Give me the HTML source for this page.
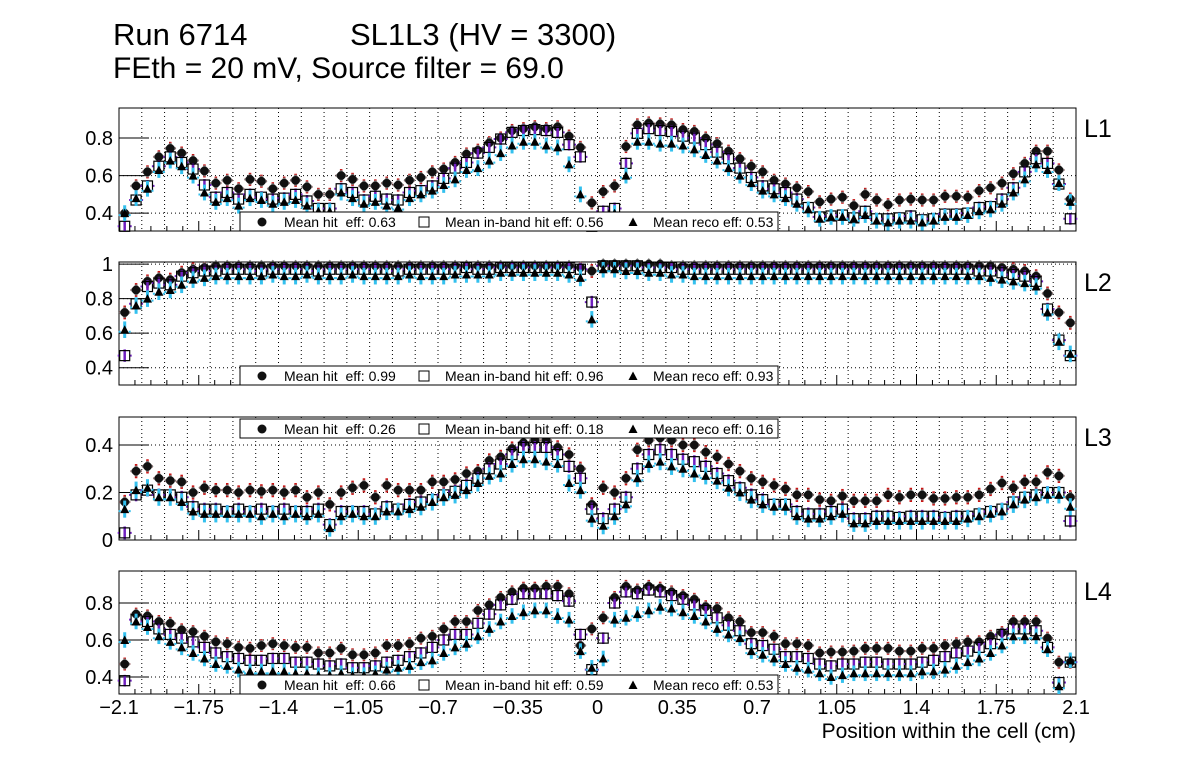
<!DOCTYPE html>
<html><head><meta charset="utf-8"><style>
html,body{margin:0;padding:0;background:#fff;}
svg{display:block;font-family:"Liberation Sans",Arial,sans-serif;}
</style></head><body>
<svg id="chart" width="1196" height="772" viewBox="0 0 1196 772">
<text x="113" y="45" font-size="31">Run 6714</text>
<text x="350" y="45" font-size="31">SL1L3 (HV = 3300)</text>
<text x="113" y="78" font-size="30">FEth = 20 mV, Source filter = 69.0</text>
<text x="1076" y="738" font-size="21" text-anchor="end">Position within the cell (cm)</text>
</svg>
<script>
const xTicks = [-2.1,-1.75,-1.4,-1.05,-0.7,-0.35,0,0.35,0.7,1.05,1.4,1.75,2.1];
const xTickLabels = ["\u22122.1","\u22121.75","\u22121.4","\u22121.05","\u22120.7","\u22120.35","0","0.35","0.7","1.05","1.4","1.75","2.1"];
const layerNames = ["L1","L2","L3","L4"];
const meanHit = ["0.63","0.99","0.26","0.66"];
const meanInband = ["0.56","0.96","0.18","0.59"];
const meanReco = ["0.53","0.93","0.16","0.53"];
const yTicks1 = [0.4,0.6,0.8];
const yTicks2 = [0.4,0.6,0.8,1];
const yTicks3 = [0,0.2,0.4];
const yTicks4 = [0.4,0.6,0.8];

const h1 = [0.40,0.545,0.62,0.70,0.745,0.72,0.68,0.625,0.56,0.575, 0.53,0.58,0.57,0.53,0.56,0.575,0.54,0.50,0.50,0.60, 0.58,0.545,0.545,0.56,0.55,0.575,0.59,0.62,0.635,0.67, 0.715,0.735,0.775,0.80,0.84,0.85,0.86,0.85,0.86,0.81, 0.75,0.455,0.515,0.545,0.755,0.87,0.88,0.875,0.87,0.845, 0.835,0.80,0.77,0.73,0.69,0.65,0.62,0.575,0.555,0.535, 0.515,0.46,0.475,0.485,0.44,0.50,0.47,0.445,0.47,0.475, 0.47,0.47,0.49,0.49,0.485,0.52,0.535,0.56,0.61,0.665, 0.73,0.73,0.63,0.475];
const s1 = [0.33,0.47,0.545,0.65,0.70,0.67,0.635,0.55,0.485,0.51, 0.475,0.50,0.485,0.475,0.48,0.50,0.465,0.425,0.425,0.53, 0.51,0.47,0.49,0.475,0.47,0.51,0.52,0.545,0.585,0.64, 0.67,0.72,0.75,0.795,0.83,0.84,0.845,0.84,0.83,0.765, 0.70,0.33,0.41,0.425,0.665,0.825,0.85,0.84,0.835,0.81, 0.80,0.765,0.725,0.69,0.64,0.59,0.545,0.53,0.51,0.475, 0.43,0.38,0.385,0.39,0.375,0.41,0.37,0.37,0.375,0.385, 0.365,0.37,0.395,0.395,0.40,0.43,0.435,0.475,0.535,0.62, 0.69,0.665,0.555,0.37];
const t1 = [0.40,0.48,0.53,0.63,0.68,0.65,0.60,0.51,0.46,0.48, 0.44,0.48,0.47,0.45,0.46,0.47,0.44,0.41,0.41,0.51, 0.48,0.45,0.46,0.44,0.43,0.48,0.50,0.52,0.55,0.58, 0.63,0.64,0.68,0.72,0.76,0.78,0.78,0.76,0.75,0.66, 0.50,0.33,0.36,0.40,0.60,0.78,0.78,0.77,0.77,0.76, 0.74,0.71,0.68,0.64,0.60,0.56,0.52,0.50,0.48,0.45, 0.42,0.37,0.38,0.38,0.37,0.39,0.36,0.35,0.36,0.36, 0.35,0.36,0.38,0.38,0.39,0.41,0.42,0.45,0.51,0.58, 0.66,0.63,0.56,0.46];

const h2 = [0.72,0.85,0.90,0.92,0.91,0.95,0.97,0.98,0.99,0.99, 0.99,0.99,0.99,0.99,0.99,0.99,0.99,0.99,0.99,0.99, 0.99,0.99,0.99,0.99,0.99,0.99,0.99,0.99,0.99,0.99, 0.99,0.99,0.99,0.99,0.99,0.99,0.99,0.99,0.99,0.99, 0.98,0.96,1.0,1.0,1.0,1.0,1.0,1.0,0.99,0.99, 0.99,0.99,0.99,0.99,0.99,0.99,0.99,0.99,0.99,0.99, 0.99,0.99,0.99,0.99,0.99,0.99,0.99,0.99,0.99,0.99, 0.99,0.99,0.99,0.99,0.99,0.99,0.99,0.98,0.97,0.96, 0.93,0.83,0.72,0.66];
const s2 = [0.47,0.77,0.87,0.89,0.88,0.93,0.95,0.96,0.96,0.97, 0.97,0.97,0.96,0.97,0.97,0.97,0.97,0.96,0.97,0.97, 0.97,0.97,0.97,0.97,0.96,0.97,0.97,0.97,0.97,0.97, 0.98,0.97,0.97,0.98,0.98,0.98,0.98,0.98,0.98,0.98, 0.97,0.78,0.99,0.99,0.99,0.99,0.98,0.98,0.98,0.97, 0.97,0.97,0.97,0.97,0.97,0.97,0.97,0.97,0.97,0.97, 0.97,0.97,0.97,0.97,0.97,0.97,0.97,0.97,0.97,0.97, 0.97,0.97,0.97,0.97,0.97,0.96,0.96,0.95,0.94,0.93, 0.90,0.74,0.56,0.47];
const t2 = [0.62,0.76,0.80,0.84,0.85,0.88,0.91,0.92,0.93,0.93, 0.93,0.93,0.93,0.94,0.93,0.93,0.94,0.93,0.93,0.93, 0.94,0.93,0.93,0.93,0.93,0.94,0.93,0.93,0.93,0.94, 0.94,0.94,0.94,0.95,0.95,0.95,0.95,0.95,0.95,0.94, 0.92,0.68,0.97,0.97,0.96,0.96,0.95,0.95,0.94,0.94, 0.93,0.93,0.93,0.93,0.93,0.93,0.93,0.93,0.93,0.93, 0.93,0.93,0.93,0.93,0.93,0.93,0.93,0.93,0.93,0.93, 0.93,0.93,0.93,0.93,0.93,0.93,0.92,0.91,0.90,0.89, 0.87,0.72,0.55,0.48];

const h3 = [0.16,0.29,0.31,0.26,0.25,0.245,0.20,0.22,0.21,0.21, 0.20,0.21,0.205,0.21,0.20,0.21,0.18,0.20,0.15,0.20, 0.22,0.23,0.18,0.23,0.21,0.21,0.21,0.245,0.245,0.255, 0.28,0.29,0.335,0.35,0.385,0.41,0.42,0.42,0.39,0.36, 0.30,0.15,0.22,0.20,0.26,0.38,0.42,0.43,0.42,0.40, 0.40,0.37,0.35,0.32,0.29,0.26,0.245,0.23,0.215,0.19, 0.19,0.17,0.165,0.185,0.165,0.165,0.165,0.19,0.18,0.19, 0.19,0.175,0.175,0.18,0.18,0.19,0.215,0.24,0.22,0.245, 0.245,0.285,0.27,0.18];
const s3 = [0.03,0.19,0.21,0.19,0.19,0.18,0.14,0.13,0.13,0.12, 0.13,0.12,0.13,0.12,0.13,0.12,0.12,0.13,0.065,0.12, 0.12,0.12,0.11,0.14,0.13,0.15,0.16,0.17,0.19,0.205, 0.23,0.26,0.30,0.32,0.36,0.39,0.39,0.39,0.36,0.31, 0.26,0.13,0.09,0.13,0.18,0.30,0.36,0.38,0.36,0.34, 0.33,0.31,0.28,0.25,0.22,0.19,0.17,0.15,0.15,0.12, 0.11,0.11,0.12,0.13,0.09,0.09,0.10,0.10,0.095,0.10, 0.10,0.10,0.095,0.10,0.10,0.11,0.12,0.13,0.16,0.18, 0.19,0.20,0.20,0.08];
const t3 = [0.13,0.21,0.22,0.18,0.18,0.16,0.12,0.11,0.11,0.11, 0.11,0.11,0.10,0.11,0.10,0.11,0.10,0.11,0.05,0.10, 0.11,0.10,0.10,0.12,0.12,0.13,0.14,0.16,0.18,0.19, 0.21,0.24,0.27,0.28,0.32,0.34,0.34,0.33,0.32,0.24, 0.21,0.09,0.06,0.10,0.15,0.26,0.32,0.33,0.31,0.30, 0.28,0.27,0.25,0.22,0.20,0.17,0.15,0.14,0.14,0.10, 0.09,0.09,0.10,0.11,0.07,0.07,0.08,0.08,0.08,0.08, 0.08,0.08,0.08,0.08,0.09,0.10,0.11,0.12,0.15,0.17, 0.18,0.19,0.19,0.14];

const h4 = [0.47,0.74,0.73,0.70,0.69,0.655,0.645,0.62,0.59,0.58, 0.56,0.555,0.57,0.58,0.57,0.56,0.56,0.53,0.53,0.555, 0.52,0.52,0.53,0.57,0.57,0.58,0.61,0.62,0.66,0.70, 0.70,0.76,0.79,0.83,0.86,0.88,0.88,0.89,0.89,0.85, 0.57,0.66,0.72,0.83,0.89,0.87,0.89,0.88,0.86,0.84, 0.82,0.78,0.77,0.72,0.70,0.64,0.64,0.62,0.58,0.58, 0.57,0.53,0.535,0.535,0.54,0.555,0.555,0.555,0.54,0.54, 0.555,0.555,0.57,0.58,0.59,0.59,0.62,0.64,0.70,0.70, 0.70,0.61,0.48,0.48];
const s4 = [0.38,0.71,0.70,0.66,0.63,0.61,0.59,0.56,0.53,0.51, 0.50,0.49,0.49,0.50,0.50,0.48,0.48,0.47,0.46,0.47, 0.45,0.45,0.46,0.48,0.49,0.51,0.53,0.56,0.60,0.63, 0.63,0.69,0.74,0.79,0.82,0.85,0.85,0.85,0.84,0.81, 0.63,0.44,0.61,0.80,0.86,0.85,0.87,0.86,0.84,0.82, 0.79,0.76,0.72,0.68,0.65,0.58,0.57,0.55,0.51,0.51, 0.50,0.47,0.46,0.47,0.47,0.48,0.48,0.47,0.47,0.47, 0.48,0.49,0.51,0.53,0.54,0.56,0.58,0.63,0.66,0.66, 0.65,0.56,0.37,0.48];
const t4 = [0.60,0.70,0.67,0.62,0.59,0.56,0.53,0.50,0.47,0.46, 0.44,0.43,0.43,0.43,0.43,0.42,0.42,0.41,0.41,0.42, 0.41,0.41,0.42,0.44,0.45,0.46,0.48,0.49,0.53,0.56, 0.58,0.62,0.66,0.70,0.73,0.75,0.76,0.76,0.73,0.71, 0.54,0.45,0.50,0.71,0.72,0.74,0.76,0.78,0.77,0.75, 0.73,0.70,0.66,0.63,0.61,0.54,0.52,0.50,0.47,0.45, 0.44,0.42,0.40,0.41,0.42,0.42,0.42,0.42,0.42,0.42, 0.43,0.43,0.44,0.46,0.48,0.50,0.53,0.57,0.62,0.62, 0.62,0.55,0.35,0.49];

const NS = "http://www.w3.org/2000/svg";
const svg = document.getElementById("chart");
const X0 = 119, X1 = 1076, XMIN = -2.1, XMAX = 2.1;
function xScale(v){ return X0 + (v - XMIN) / (XMAX - XMIN) * (X1 - X0); }
function mk(tag, attrs, parent){
  const e = document.createElementNS(NS, tag);
  for (const k in attrs) e.setAttribute(k, attrs[k]);
  (parent || svg).appendChild(e);
  return e;
}

const panels = [
  {top:108, bot:231, ymin:0.305, ymax:0.96, ticks:yTicks1, h:h1, s:s1, t:t1, legY:212, err:0.035},
  {top:262, bot:385, ymin:0.30, ymax:1.012, ticks:yTicks2, h:h2, s:s2, t:t2, legY:366, err:0.04},
  {top:417, bot:540, ymin:0, ymax:0.518, ticks:yTicks3, h:h3, s:s3, t:t3, legY:419, err:0.03},
  {top:571, bot:694, ymin:0.308, ymax:0.973, ticks:yTicks4, h:h4, s:s4, t:t4, legY:675, err:0.035}
];

panels.forEach((p, pi) => {
  const g = mk("g", {});
  
  
  const yScale = v => p.bot - (v - p.ymin) / (p.ymax - p.ymin) * (p.bot - p.top);
  for (let k = -20; k <= 20; k++) {
    const xv = k / 10;
    const gl = mk("line", {x1:xScale(xv), x2:xScale(xv), y1:p.top, y2:p.bot, stroke:"#000", "stroke-width":1, "stroke-dasharray":"1,3"}, g);
    
    
  }
  p.ticks.forEach(tv => {
    const y = yScale(tv);
    const gl = mk("line", {x1:X0, x2:X1, y1:y, y2:y, stroke:"#000", "stroke-width":1, "stroke-dasharray":"1,3"}, g);
    
    
    const tk = mk("line", {x1:X0, x2:X0 + 30, y1:y, y2:y, stroke:"#000", "stroke-width":1}, g);
    
    
    const lb = mk("text", {x:X0 - 6, y:y + 7, "font-size":20, "text-anchor":"end"}, g);
    lb.textContent = String(tv);
    
    
  });
  for (let k = 0; k <= 60; k++) {
    const xv = XMIN + k * 0.07;
    const major = k % 5 === 0;
    const tk = mk("line", {x1:xScale(xv), x2:xScale(xv), y1:p.bot, y2:p.bot - (major ? 10 : 5), stroke:"#000", "stroke-width":1}, g);
    
    
  }
  const fr = mk("rect", {x:X0, y:p.top, width:X1 - X0, height:p.bot - p.top, fill:"none", stroke:"#000", "stroke-width":1}, g);
  
  
  const ln = mk("text", {x:1084, y:p.top + 29, "font-size":25}, g);
  ln.textContent = layerNames[pi];
  
  

  const xc = i => xScale(-2.075 + 0.05 * i);
  const clipTop = v => Math.max(p.top, Math.min(p.bot, v));
  p.h.forEach((v, i) => {
    const x = xc(i), y = yScale(v), e = p.err * (p.bot - p.top) / (p.ymax - p.ymin);
    const eb = mk("line", {x1:x, x2:x, y1:clipTop(y - e), y2:clipTop(y + e), stroke:"#cc1111", "stroke-width":2.5}, g);
    
    
    const hb = mk("line", {x1:x - 5.5, x2:x + 5.5, y1:y, y2:y, stroke:"#cc1111", "stroke-width":2}, g);
    
    
    if (y >= p.top && y <= p.bot) {
      const c = mk("path", {d:`M${x} ${y-6}L${x+6} ${y}L${x} ${y+6}L${x-6} ${y}Z`, fill:"#777"}, g);
      
      
      const c2 = mk("circle", {cx:x, cy:y, r:4.3, fill:"#111"}, g);
      
      
    }
  });
  p.s.forEach((v, i) => {
    const x = xc(i), y = yScale(v), e = p.err * 0.9 * (p.bot - p.top) / (p.ymax - p.ymin);
    const eb = mk("line", {x1:x, x2:x, y1:clipTop(y - e), y2:clipTop(y + e), stroke:"#7020c0", "stroke-width":2.5}, g);
    
    
    const hb = mk("line", {x1:x - 7, x2:x + 7, y1:y, y2:y, stroke:"#7020c0", "stroke-width":2, "stroke-dasharray":"2,10"}, g);
    
    
    if (y >= p.top && y <= p.bot) {
      const r = mk("rect", {x:x - 5, y:y - 5, width:10, height:10, fill:"none", stroke:"#000", "stroke-width":1.2}, g);
      
      
    }
  });
  p.t.forEach((v, i) => {
    const x = xc(i), y = yScale(v), e = p.err * 1.2 * (p.bot - p.top) / (p.ymax - p.ymin);
    const eb = mk("line", {x1:x, x2:x, y1:clipTop(y - e), y2:clipTop(y + e), stroke:"#33c0ee", "stroke-width":3}, g);
    
    
    const hb = mk("line", {x1:x - 6, x2:x + 6, y1:y + 2, y2:y + 2, stroke:"#33c0ee", "stroke-width":2, "stroke-dasharray":"2,8"}, g);
    
    
    if (y >= p.top && y <= p.bot) {
      const tr = mk("path", {d:`M${x} ${y-4.5}L${x+4.5} ${y+4}L${x-4.5} ${y+4}Z`, fill:"#000"}, g);
      
      
    }
  });

  const lg = mk("g", {}, g);
  
  
  const lr = mk("rect", {x:240, y:p.legY, width:538, height:19, fill:"#fff", stroke:"#000", "stroke-width":1}, lg);
  
  
  const cy = p.legY + 10;
  const lc = mk("circle", {cx:262, cy:cy, r:4.5, fill:"#111"}, lg);
  
  
  const t1e = mk("text", {x:284, y:cy + 5, "font-size":14}, lg);
  t1e.textContent = "Mean hit\u00a0 eff: " + meanHit[pi];
  
  
  const lsq = mk("rect", {x:419, y:cy - 5, width:10, height:10, fill:"none", stroke:"#000"}, lg);
  
  
  const t2e = mk("text", {x:445, y:cy + 5, "font-size":14}, lg);
  t2e.textContent = "Mean in-band hit eff: " + meanInband[pi];
  
  
  const ltr = mk("path", {d:`M633 ${cy-4.5}L637.5 ${cy+4}L628.5 ${cy+4}Z`, fill:"#000"}, lg);
  
  
  const t3e = mk("text", {x:653, y:cy + 5, "font-size":14}, lg);
  t3e.textContent = "Mean reco eff: " + meanReco[pi];
  
  
});

xTicks.forEach((v, i) => {
  const t = mk("text", {x:xScale(v), y:714, "font-size":20, "text-anchor":"middle"});
  t.textContent = xTickLabels[i];
  
  
});
</script>
</body></html>
